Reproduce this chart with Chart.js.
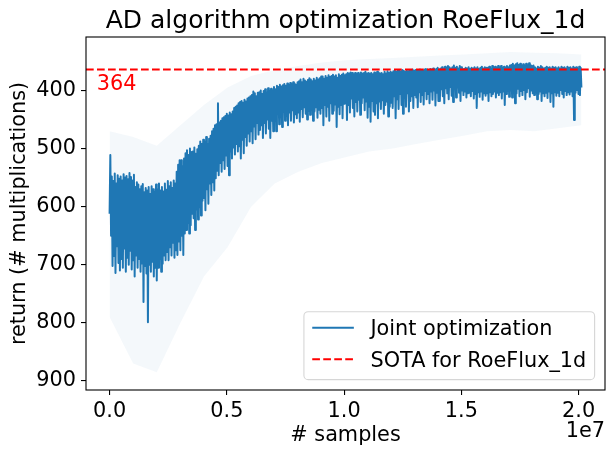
<!DOCTYPE html>
<html>
<head>
<meta charset="utf-8">
<title>AD algorithm optimization RoeFlux_1d</title>
<script src="https://cdn.jsdelivr.net/npm/chart.js@4.4.0/dist/chart.umd.min.js"></script>
<style>
  html, body { margin: 0; padding: 0; background: #fff; }
  #wrap { width: 615px; height: 455px; }
</style>
</head>
<body>
<div id="wrap"><canvas id="chart" width="615" height="455"></canvas></div>
<script>
const joint = [
  612, 511, 650, 548, 702, 556, 685, 543, 714, 560, 668, 546, 697, 552, 710, 548,
  690, 555, 705, 544, 672, 550, 712, 547, 688, 553, 700, 542, 676, 549, 708, 555,
  692, 545, 720, 566, 684, 558, 705, 562, 690, 570, 712, 565, 698, 561, 764, 575,
  702, 568, 715, 572, 799, 566, 700, 578, 712, 565, 695, 570, 720, 574, 705, 562,
  727, 570, 705, 560, 690, 572, 712, 566, 698, 574, 684, 560, 692, 571, 678, 556,
  692, 565, 670, 558, 684, 568, 662, 555, 688, 560, 675, 540, 683, 528, 660, 520,
  675, 520, 650, 530, 683, 517, 646, 508, 640, 503, 628, 511, 646, 500, 632, 506,
  612, 505, 620, 498, 640, 509, 605, 501, 622, 495, 601, 488, 615, 492, 590, 485,
  585, 488, 606, 480, 570, 492, 595, 483, 560, 478, 580, 470, 558, 466, 572, 460,
  551, 458, 538, 422, 546, 455, 525, 452, 540, 448, 520, 446, 535, 444, 512, 440,
  530, 443, 546, 438, 505, 441, 517, 436, 498, 430, 510, 428, 492, 426, 505, 422,
  496, 420, 517, 418, 485, 421, 508, 416, 480, 419, 495, 414, 474, 412, 488, 410,
  470, 408, 491, 402, 462, 405, 484, 410, 456, 404, 476, 403, 468, 400, 460, 406,
  482, 401, 456, 398, 474, 403, 450, 396, 466, 400, 482, 397, 452, 399, 470, 394,
  448, 398, 470, 392, 440, 394, 458, 390, 446, 393, 463, 391, 436, 389, 452, 392,
  444, 388, 460, 390, 438, 387, 452, 389, 434, 386, 455, 388, 441, 390, 448, 386,
  438, 384, 454, 381, 432, 386, 446, 380, 429, 383, 440, 385, 450, 382, 435, 379,
  442, 381, 431, 384, 452, 380, 436, 383, 429, 378, 447, 381, 433, 379, 440, 376,
  430, 376, 460, 380, 425, 375, 445, 378, 428, 374, 452, 377, 422, 375, 440, 373,
  435, 376, 424, 374, 463, 378, 428, 372, 441, 375, 425, 373, 448, 371, 423, 374,
  418, 372, 451, 370, 425, 371, 438, 369, 414, 370, 430, 372, 445, 370, 420, 371,
  436, 370, 416, 372, 442, 369, 422, 371, 412, 370, 434, 368, 419, 371, 447, 370,
  428, 371, 454, 370, 418, 372, 436, 369, 442, 370, 422, 368, 448, 369, 419, 371,
  432, 370, 417, 372, 440, 368, 425, 371, 419, 367, 445, 370, 428, 368, 421, 369,
  430, 367, 410, 366, 448, 368, 415, 365, 432, 366, 406, 367, 425, 365, 440, 366,
  412, 368, 428, 366, 405, 367, 436, 365, 418, 366, 410, 364, 430, 366, 408, 365,
  412, 365, 429, 366, 403, 364, 420, 365, 408, 366, 424, 364, 401, 363, 415, 364,
  406, 365, 422, 363, 402, 364, 416, 362, 400, 365, 426, 363, 404, 361, 418, 364,
  418, 362, 398, 360, 410, 363, 422, 359, 396, 361, 405, 358, 415, 360, 394, 362,
  409, 360, 420, 357, 398, 361, 412, 359, 395, 362, 404, 358, 418, 360, 400, 363,
  408, 363, 402, 361, 412, 362, 405, 360, 404, 363, 410, 361, 401, 362, 414, 360,
  406, 362, 430, 360, 403, 363, 411, 361, 402, 359, 416, 362, 405, 360, 409, 361,
  405, 361, 418, 359, 403, 362, 410, 358, 406, 360, 402, 359, 412, 361, 404, 358,
  408, 360, 403, 358, 414, 361, 402, 359, 425, 361, 406, 358, 401, 360, 411, 357,
  400, 356, 412, 354, 398, 357, 422, 355, 405, 353, 397, 356, 410, 354, 401, 357,
  408, 355, 399, 357, 415, 354, 403, 356, 396, 353, 411, 356, 400, 358, 405, 357,
  408, 360, 403, 362, 415, 359, 406, 361, 402, 358, 418, 360, 405, 362, 410, 361,
  404, 359, 413, 361, 402, 360, 420, 362, 405, 359, 428, 361, 403, 360, 409, 362,
  404, 360, 410, 362, 399, 359, 406, 361, 412, 360, 401, 362, 408, 359, 403, 361,
  407, 360, 402, 362, 410, 359, 451, 361, 404, 360, 399, 362, 406, 359, 408, 361,
  395
];
const lastSample = 2.012e7;   // samples at the final logged step

// spread around the run (faint band), every 1/20 of the run
const bandTop    = [470, 480, 495, 460, 425, 395, 375, 365, 358, 352, 348, 346, 344, 342, 340, 338, 336, 334, 335, 336, 338];
const bandBottom = [790, 870, 885, 800, 720, 670, 600, 560, 540, 525, 515, 505, 500, 492, 485, 478, 470, 468, 470, 465, 460];

const sota = 364;
const xTicks = [0, 0.5e7, 1.0e7, 1.5e7, 2.0e7];
const yTicks = [400, 500, 600, 700, 800, 900];
const xRange = [-0.1006e7, 2.1126e7];
const yRange = [308, 915.5];

const FONT = '"DejaVu Sans", "Liberation Sans", sans-serif';
const BLUE = '#1f77b4';

Chart.defaults.color = '#000';
Chart.defaults.font.family = FONT;

const atStep = (arr, last) => arr.map((v, i) => ({ x: i * last / (arr.length - 1), y: v }));

// frame, "364" label, offset text and legend, drawn matplotlib style
const extras = {
  id: 'extras',
  afterDatasetsDraw(chart) {
    const { ctx, chartArea: a, scales: { x, y } } = chart;
    ctx.save();

    ctx.font = '20.8px ' + FONT;
    ctx.fillStyle = '#ff0000';
    ctx.textAlign = 'left';
    ctx.textBaseline = 'alphabetic';
    ctx.fillText(String(sota), x.getPixelForValue(-0.055e7), y.getPixelForValue(sota) + 20);

    ctx.strokeStyle = '#000';
    ctx.lineWidth = 1.1;
    ctx.strokeRect(a.left, a.top, a.right - a.left, a.bottom - a.top);

    ctx.fillStyle = '#000';
    ctx.textAlign = 'right';
    ctx.fillText('1e7', a.right, 436.5);

    // legend
    const items = chart.data.datasets.filter(d => d.inLegend);
    const fs = 20.8;
    const textW = Math.max(...items.map(d => ctx.measureText(d.label).width));
    const w = 0.4 * fs + 2.0 * fs + 0.8 * fs + textW + 0.4 * fs;
    const h = 67.9;
    const right = a.right - 0.5 * fs, bottom = a.bottom - 0.5 * fs;
    const left = right - w, top = bottom - h;
    ctx.beginPath();
    ctx.roundRect(left, top, w, h, 4.2);
    ctx.fillStyle = 'rgba(255,255,255,0.8)';
    ctx.fill();
    ctx.strokeStyle = 'rgba(204,204,204,0.8)';
    ctx.lineWidth = 1.1;
    ctx.stroke();
    items.forEach((d, i) => {
      const ly = top + 16 + i * 31.6;
      ctx.beginPath();
      ctx.setLineDash(d.borderDash || []);
      ctx.strokeStyle = d.borderColor;
      ctx.lineWidth = d.borderWidth;
      ctx.moveTo(left + 0.4 * fs, ly);
      ctx.lineTo(left + 2.4 * fs, ly);
      ctx.stroke();
      ctx.setLineDash([]);
      ctx.fillStyle = '#000';
      ctx.textAlign = 'left';
      ctx.fillText(d.label, left + 3.2 * fs, ly + 7.6);
    });
    ctx.restore();
  }
};

new Chart(document.getElementById('chart'), {
  type: 'line',
  data: {
    datasets: [
      {
        label: 'Joint optimization',
        inLegend: true,
        data: atStep(joint, lastSample),
        borderColor: BLUE,
        borderWidth: 2,
        borderJoinStyle: 'round',
        pointRadius: 0,
        tension: 0,
        order: 1
      },
      {
        label: 'band top',
        data: atStep(bandTop, lastSample),
        borderWidth: 0,
        pointRadius: 0,
        fill: false,
        order: 2
      },
      {
        label: 'band bottom',
        data: atStep(bandBottom, lastSample),
        borderWidth: 0,
        pointRadius: 0,
        fill: 1,
        backgroundColor: 'rgba(31,119,180,0.05)',
        order: 2
      },
      {
        label: 'SOTA for RoeFlux_1d',
        inLegend: true,
        data: [{ x: xRange[0], y: sota }, { x: xRange[1], y: sota }],
        borderColor: '#ff0000',
        borderWidth: 2,
        borderDash: [7.7, 3.3],
        pointRadius: 0,
        order: 0
      }
    ]
  },
  options: {
    responsive: false,
    animation: false,
    layout: { padding: { left: 0, right: 10, top: 0, bottom: 0 } },
    plugins: {
      legend: { display: false },
      tooltip: { enabled: false },
      title: {
        display: true,
        text: 'AD algorithm optimization RoeFlux_1d',
        fullSize: false,
        font: { size: 25, weight: 'normal', family: FONT },
        color: '#000',
        padding: { top: 6, bottom: 1 }
      }
    },
    scales: {
      x: {
        type: 'linear',
        min: xRange[0],
        max: xRange[1],
        afterBuildTicks: s => { s.ticks = xTicks.map(v => ({ value: v })); },
        afterFit: s => { s.height = 65; s.paddingLeft = 0; s.paddingRight = 0; },
        ticks: {
          font: { size: 20.8 },
          color: '#000',
          maxRotation: 0,
          autoSkip: false,
          padding: 4,
          callback: v => (v / 1e7).toFixed(1)
        },
        grid: { drawOnChartArea: false, drawTicks: true, tickLength: 5, color: '#000', lineWidth: 1.1 },
        border: { display: false },
        title: {
          display: true,
          text: '# samples',
          font: { size: 20.8 },
          color: '#000',
          padding: { top: 0, bottom: 7 }
        }
      },
      y: {
        type: 'linear',
        reverse: true,
        min: yRange[0],
        max: yRange[1],
        afterBuildTicks: s => { s.ticks = yTicks.map(v => ({ value: v })); },
        afterFit: s => { s.width = 86; s.paddingTop = 0; s.paddingBottom = 0; },
        ticks: {
          font: { size: 20.8 },
          color: '#000',
          autoSkip: false,
          padding: 5
        },
        grid: { drawOnChartArea: false, drawTicks: true, tickLength: 5, color: '#000', lineWidth: 1.1 },
        border: { display: false },
        title: {
          display: true,
          text: 'return (# multiplications)',
          font: { size: 20.8 },
          color: '#000',
          padding: { top: 7, bottom: 0 }
        }
      }
    }
  },
  plugins: [extras]
});
</script>
</body>
</html>
